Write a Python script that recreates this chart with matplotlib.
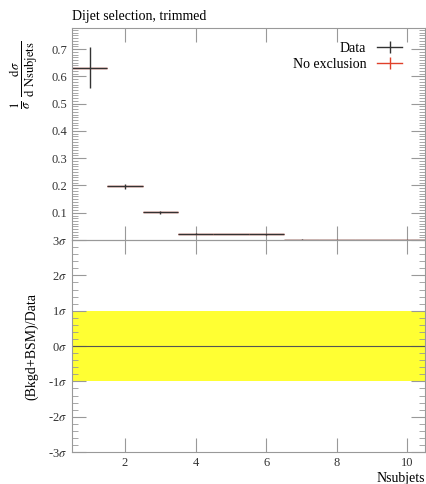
import numpy as np
import matplotlib
matplotlib.use('Agg')
import matplotlib.pyplot as plt
from matplotlib.lines import Line2D

plt.rcParams['font.family'] = ['Liberation Serif', 'DejaVu Serif']
plt.rcParams['mathtext.fontset'] = 'stix'

## Data
nsub = [1, 2, 3, 4, 5, 6, 7, 8, 9, 10]
data_val = [0.632, 0.197, 0.102, 0.023, 0.022, 0.021, 0.002, 0.001, 0.0006, 0.0003]
data_err = [0.075, 0.010, 0.005, 0.002, 0.001, 0.001, 0.0003, 0.0002, 0.0001, 0.0001]
noexcl_val = [0.632, 0.197, 0.102, 0.023, 0.022, 0.021, 0.002, 0.001, 0.0006, 0.0003]
band_lo, band_hi = -1, 1
upper_ticks = [0.1, 0.2, 0.3, 0.4, 0.5, 0.6, 0.7]
sigma_ticks = [-3, -2, -1, 0, 1, 2, 3]

fig = plt.figure(figsize=(4.26, 4.84), dpi=100)
ax1 = fig.add_axes([0.169, 0.504, 0.829, 0.438])
ax2 = fig.add_axes([0.169, 0.066, 0.829, 0.438])

grey = '#999999'
dark = '#333333'

## Upper panel
ax1.errorbar(nsub, noexcl_val, xerr=0.5, fmt='none', ecolor='#e0402a', elinewidth=1.0)
ax1.errorbar(nsub, data_val, xerr=0.5, yerr=data_err, fmt='none', ecolor=dark, elinewidth=1.0)
ax1.set_xlim(0.5, 10.5)
ax1.set_ylim(0, 0.777)
ax1.set_yticks(upper_ticks)
ax1.set_yticklabels(['%.1f' % t for t in upper_ticks])
ax1.set_yticks(np.arange(0, 0.78, 0.01), minor=True)
ax1.set_xticks([2, 4, 6, 8, 10])
ax1.set_xticklabels([])
ax1.set_ylabel(r'$\frac{1}{\sigma}\ \frac{\mathrm{d}\sigma}{\mathrm{d\ Nsubjets}}$', fontsize=13)
ax1.set_title('Dijet selection, trimmed', loc='left', fontsize=10, pad=6)

handles = [Line2D([], [], color=dark, marker='|', markersize=9, lw=1.0),
           Line2D([], [], color='#e0402a', marker='|', markersize=9, lw=1.0)]
ax1.legend(handles, ['Data', 'No exclusion'], loc='upper right', frameon=False,
           markerfirst=False, fontsize=10, handlelength=1.8, borderaxespad=0.6,
           labelspacing=0.2, bbox_to_anchor=(0.975, 1.0))

## Lower panel
ax2.axhspan(band_lo, band_hi, color='#ffff33', lw=0)
ax2.axhline(0, color='#555555', lw=0.8)
ax2.set_xlim(0.5, 10.5)
ax2.set_ylim(-3, 3)
ax2.set_yticks(sigma_ticks)
ax2.set_yticklabels([r'%d$\sigma$' % t for t in sigma_ticks])
ax2.set_yticks(np.arange(-3, 3.01, 0.2), minor=True)
ax2.set_xticks([2, 4, 6, 8, 10])
ax2.set_ylabel('(Bkgd+BSM)/Data', fontsize=10)
ax2.set_xlabel('Nsubjets', fontsize=10, loc='right', labelpad=2)

for ax in (ax1, ax2):
    for s in ax.spines.values():
        s.set_color(grey)
    ax.tick_params(which='both', direction='in', top=True, right=True,
                   color=grey, labelcolor='#333333', labelsize=9)
    ax.tick_params(which='major', length=10)
    ax.tick_params(which='minor', length=4)
    ax.set_facecolor('none')

ax1.yaxis.set_label_coords(-0.09, 0.78)
ax2.yaxis.set_label_coords(-0.095, 0.5)

fig.savefig('out.png', dpi=100)
